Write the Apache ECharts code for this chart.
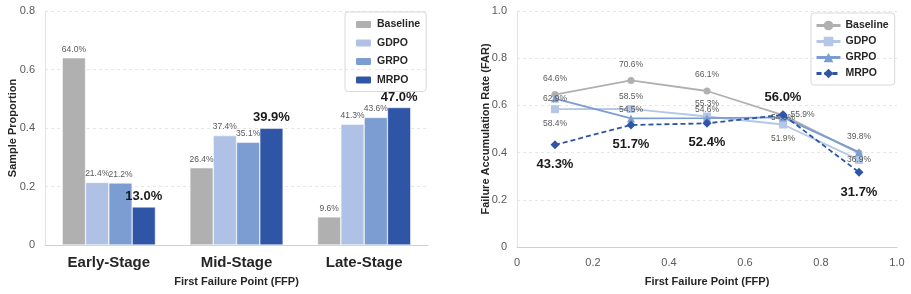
<!DOCTYPE html>
<html>
<head>
<meta charset="utf-8">
<script src="https://cdn.jsdelivr.net/npm/echarts@6/dist/echarts.min.js"></script>
<style>
  html, body { margin: 0; padding: 0; background: #fff; }
  #left { position: absolute; left: 0; top: 0; width: 455px; height: 294px; }
  #right { position: absolute; left: 455px; top: 0; width: 456px; height: 294px; }
</style>
</head>
<body>
<div id="left"></div>
<div id="right"></div>
<script>
// data
const methods = ['Baseline', 'GDPO', 'GRPO', 'MRPO']
const stages = ['Early-Stage', 'Mid-Stage', 'Late-Stage']
const stageBaseline = [64.0, 26.4, 9.6]
const stageGDPO = [21.4, 37.4, 41.3]
const stageGRPO = [21.2, 35.1, 43.6]
const stageMRPO = [13.0, 39.9, 47.0]

const ffp = [0.1, 0.3, 0.5, 0.7, 0.9]
const farBaseline = [64.6, 70.6, 66.1, 55.9, 39.8]
const farGDPO = [58.4, 58.5, 55.3, 51.9, 36.9]
const farGRPO = [62.9, 54.5, 54.6, 54.9, 40.2]
const farMRPO = [43.3, 51.7, 52.4, 56.0, 31.7]

const barColors = ['#b0b0b0', '#afc2e5', '#7b9dd1', '#2f56a6']
const lineColors = ['#b0b0b0', '#b4c7e7', '#7b9dd1', '#2f56a6']
const FONT = 'Liberation Sans, Arial, sans-serif'

const pct = v => v.toFixed(1) + '%'
const tick = v => v === 0 ? '0' : v.toFixed(1)

const smallLabel = { fontSize: 8.5, color: '#595959', fontFamily: FONT }
const bigLabel = { fontSize: 13, fontWeight: 'bold', color: '#1a1a1a', fontFamily: FONT }

// left: bar chart
const left = echarts.init(document.getElementById('left'))
const stageSets = [stageBaseline, stageGDPO, stageGRPO, stageMRPO]
left.setOption({
  animation: false,
  textStyle: { fontFamily: FONT },
  grid: { left: 45, right: 27, top: 11, bottom: 49, outerBoundsMode: 'none' },
  legend: {
    left: 345, top: 12, width: 82, height: 71,
    orient: 'vertical',
    itemWidth: 17, itemHeight: 9, itemGap: 7.5,
    padding: [7, 6, 6, 9],
    borderColor: '#d9d9d9', borderWidth: 1, borderRadius: 3,
    textStyle: { fontSize: 10.5, fontWeight: 'bold', color: '#262626', fontFamily: FONT },
    data: methods
  },
  xAxis: {
    type: 'category',
    data: stages,
    name: 'First Failure Point (FFP)',
    nameLocation: 'middle',
    nameGap: 31,
    nameMoveOverlap: false,
    nameTextStyle: { fontSize: 11, fontWeight: 'bold', color: '#262626' },
    axisLine: { lineStyle: { color: '#d0d0d0' } },
    axisTick: { show: false },
    axisLabel: { fontSize: 15, fontWeight: 'bold', color: '#262626', margin: 10 }
  },
  yAxis: {
    type: 'value', min: 0, max: 0.8, interval: 0.2,
    name: 'Sample Proportion',
    nameLocation: 'middle',
    nameGap: 27,
    nameMoveOverlap: false,
    nameTextStyle: { fontSize: 11, fontWeight: 'bold', color: '#262626' },
    axisLine: { show: true, lineStyle: { color: '#e3e3e3' } },
    axisTick: { show: false },
    axisLabel: { fontSize: 11, color: '#595959', formatter: tick, margin: 10 },
    splitLine: { lineStyle: { color: '#e6e6e6', type: [3, 3] } }
  },
  series: methods.map((m, i) => ({
    name: m,
    type: 'bar',
    barGap: '0%',
    barCategoryGap: '27%',
    itemStyle: { color: barColors[i], borderColor: '#ffffff', borderWidth: 0.5 },
    label: Object.assign({
      show: true, position: 'top', distance: 4,
      formatter: p => pct(p.value * 100)
    }, i === 3 ? bigLabel : smallLabel),
    data: stageSets[i].map(v => v / 100)
  }))
})

// right: line chart
const right = echarts.init(document.getElementById('right'))
const farSets = [farBaseline, farGDPO, farGRPO, farMRPO]
const symbols = ['circle', 'rect', 'triangle', 'diamond']
const symbolSizes = [7, 8, 8, 9]
// label placement per point (matches the reference layout)
const labelPos = [
  [['top', 8], ['top', 8], ['top', 8], ['right', 4], ['top', 8]],
  [['bottom', 6], ['top', 4], ['top', 4], ['bottom', 6], ['inside', 0]],
  [['inside', 0], ['top', 0], ['top', 0], ['inside', 0], null],
  [['bottom', 9], ['bottom', 8], ['bottom', 8], ['top', 6], ['bottom', 9]]
]
right.setOption({
  animation: false,
  textStyle: { fontFamily: FONT },
  grid: { left: 62, right: 14, top: 11, bottom: 47, outerBoundsMode: 'none' },
  legend: {
    left: 356, top: 13, width: 82, height: 73,
    orient: 'vertical',
    itemWidth: 24, itemHeight: 12, itemGap: 5,
    padding: [7, 6, 6, 4],
    borderColor: '#d9d9d9', borderWidth: 1, borderRadius: 3,
    lineStyle: { width: 3 },
    textStyle: { fontSize: 10.5, fontWeight: 'bold', color: '#262626', fontFamily: FONT },
    data: methods
  },
  xAxis: {
    type: 'value', min: 0, max: 1, interval: 0.2,
    name: 'First Failure Point (FFP)',
    nameLocation: 'middle',
    nameGap: 29,
    nameMoveOverlap: false,
    nameTextStyle: { fontSize: 11, fontWeight: 'bold', color: '#262626' },
    axisLine: { lineStyle: { color: '#d0d0d0' } },
    axisTick: { show: false },
    axisLabel: { fontSize: 11, color: '#595959', formatter: tick, margin: 10 },
    splitLine: { show: false }
  },
  yAxis: {
    type: 'value', min: 0, max: 1, interval: 0.2,
    name: 'Failure Accumulation Rate (FAR)',
    nameLocation: 'middle',
    nameGap: 26,
    nameMoveOverlap: false,
    nameTextStyle: { fontSize: 11, fontWeight: 'bold', color: '#262626' },
    axisLine: { show: true, lineStyle: { color: '#e3e3e3' } },
    axisTick: { show: false },
    axisLabel: { fontSize: 11, color: '#595959', formatter: tick, margin: 10 },
    splitLine: { lineStyle: { color: '#e6e6e6', type: [3, 3] } }
  },
  series: methods.map((m, i) => ({
    name: m,
    type: 'line',
    symbol: symbols[i],
    symbolSize: symbolSizes[i],
    z: i === 3 ? 5 : 2 + i,
    lineStyle: { color: lineColors[i], width: 1.8, type: i === 3 ? [5, 3] : 'solid' },
    itemStyle: { color: lineColors[i] },
    label: Object.assign({
      show: true,
      formatter: p => pct(p.value[1] * 100)
    }, i === 3 ? bigLabel : smallLabel),
    data: farSets[i].map((v, j) => {
      const lp = labelPos[i][j]
      return {
        value: [ffp[j], v / 100],
        label: lp ? { position: lp[0], distance: lp[1] } : { show: false }
      }
    })
  }))
})
</script>
</body>
</html>
